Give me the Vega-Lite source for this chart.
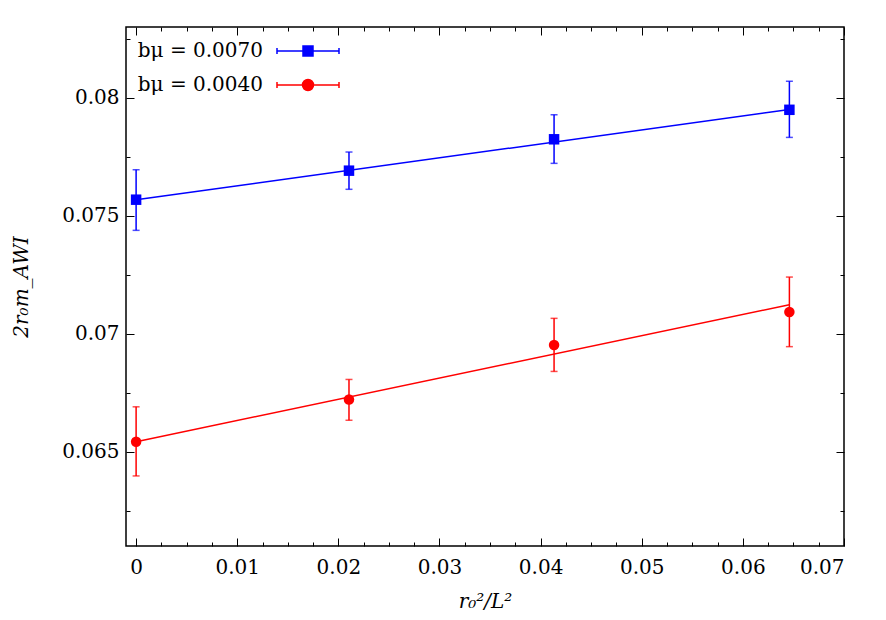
{
  "$schema": "https://vega.github.io/schema/vega-lite/v6.json",
  "width": 718,
  "height": 519,
  "autosize": {"type": "none"},
  "padding": {"left": 126, "top": 27, "right": 42, "bottom": 74},
  "background": "white",
  "config": {
    "view": {"stroke": "#000", "strokeWidth": 1.5},
    "font": "DejaVu Serif",
    "axis": {
      "grid": false,
      "domain": false,
      "tickColor": "#000",
      "tickWidth": 1,
      "labelFont": "DejaVu Serif",
      "labelFontSize": 20,
      "labelColor": "#000",
      "titleFont": "DejaVu Serif",
      "titleFontSize": 20,
      "titleFontWeight": "normal",
      "titleColor": "#000"
    }
  },
  "datasets": {
    "points": [
      {"s": "bμ = 0.0070", "x": 0, "y": 0.07568, "lo": 0.07438, "hi": 0.07695},
      {"s": "bμ = 0.0070", "x": 0.02105, "y": 0.07691, "lo": 0.07612, "hi": 0.0777},
      {"s": "bμ = 0.0070", "x": 0.04133, "y": 0.07824, "lo": 0.07722, "hi": 0.07928},
      {"s": "bμ = 0.0070", "x": 0.0646, "y": 0.07949, "lo": 0.07832, "hi": 0.0807},
      {"s": "bμ = 0.0040", "x": 0, "y": 0.06542, "lo": 0.06397, "hi": 0.0669},
      {"s": "bμ = 0.0040", "x": 0.02105, "y": 0.06721, "lo": 0.06633, "hi": 0.06806},
      {"s": "bμ = 0.0040", "x": 0.04133, "y": 0.06952, "lo": 0.0684, "hi": 0.07065},
      {"s": "bμ = 0.0040", "x": 0.0646, "y": 0.07092, "lo": 0.06945, "hi": 0.0724}
    ],
    "fits": [
      {"s": "bμ = 0.0070", "x": 0, "y": 0.07568},
      {"s": "bμ = 0.0070", "x": 0.0646, "y": 0.0795},
      {"s": "bμ = 0.0040", "x": 0, "y": 0.06542},
      {"s": "bμ = 0.0040", "x": 0.0646, "y": 0.07123}
    ]
  },
  "layer": [
    {
      "data": {"name": "points"},
      "mark": {"type": "rule", "strokeWidth": 1.5},
      "encoding": {
        "x": {"field": "x", "type": "quantitative",
          "scale": {"domain": [-0.001, 0.07], "nice": false, "zero": false},
          "axis": {"orient": "bottom", "values": [0, 0.01, 0.02, 0.03, 0.04, 0.05, 0.06, 0.07], "format": ".2~f",
            "tickSize": -8, "labelPadding": 19, "title": "r₀²/L²", "titleFontStyle": "italic", "titlePadding": 14}},
        "y": {"field": "lo", "type": "quantitative",
          "scale": {"domain": [0.061, 0.083], "nice": false, "zero": false},
          "axis": {"orient": "left", "values": [0.065, 0.07, 0.075, 0.08], "format": ".3~f",
            "tickSize": -8, "labelPadding": 15, "title": "2r₀m_AWI", "titleFontStyle": "italic", "titlePadding": 30}},
        "y2": {"field": "hi"},
        "color": {"field": "s", "type": "nominal",
          "scale": {"domain": ["bμ = 0.0070", "bμ = 0.0040"], "range": ["#0000ff", "#ff0000"]}, "legend": null}
      }
    },
    {
      "data": {"name": "points"},
      "mark": {"type": "tick", "orient": "horizontal", "size": 7, "thickness": 1.5},
      "encoding": {
        "x": {"field": "x", "type": "quantitative",
          "axis": {"orient": "bottom", "values": [0.0025, 0.005, 0.0075, 0.0125, 0.015, 0.0175, 0.0225, 0.025, 0.0275, 0.0325, 0.035, 0.0375, 0.0425, 0.045, 0.0475, 0.0525, 0.055, 0.0575, 0.0625, 0.065, 0.0675],
            "tickSize": -4, "labels": false, "title": null}},
        "y": {"field": "lo", "type": "quantitative",
          "axis": {"orient": "left", "values": [0.0625, 0.0675, 0.0725, 0.0775, 0.0825], "tickSize": -4, "labels": false, "title": null}},
        "color": {"field": "s", "type": "nominal",
          "scale": {"domain": ["bμ = 0.0070", "bμ = 0.0040"], "range": ["#0000ff", "#ff0000"]}, "legend": null}
      }
    },
    {
      "data": {"name": "points"},
      "mark": {"type": "tick", "orient": "horizontal", "size": 7, "thickness": 1.5},
      "encoding": {
        "x": {"field": "x", "type": "quantitative",
          "axis": {"orient": "top", "values": [0, 0.01, 0.02, 0.03, 0.04, 0.05, 0.06, 0.07], "tickSize": -8, "labels": false, "title": null}},
        "y": {"field": "hi", "type": "quantitative",
          "axis": {"orient": "right", "values": [0.065, 0.07, 0.075, 0.08], "tickSize": -8, "labels": false, "title": null}},
        "color": {"field": "s", "type": "nominal",
          "scale": {"domain": ["bμ = 0.0070", "bμ = 0.0040"], "range": ["#0000ff", "#ff0000"]}, "legend": null}
      }
    },
    {
      "data": {"name": "fits"},
      "mark": {"type": "line", "strokeWidth": 1.5},
      "encoding": {
        "x": {"field": "x", "type": "quantitative",
          "axis": {"orient": "top", "values": [0.0025, 0.005, 0.0075, 0.0125, 0.015, 0.0175, 0.0225, 0.025, 0.0275, 0.0325, 0.035, 0.0375, 0.0425, 0.045, 0.0475, 0.0525, 0.055, 0.0575, 0.0625, 0.065, 0.0675],
            "tickSize": -4, "labels": false, "title": null}},
        "y": {"field": "y", "type": "quantitative",
          "axis": {"orient": "right", "values": [0.0625, 0.0675, 0.0725, 0.0775, 0.0825], "tickSize": -4, "labels": false, "title": null}},
        "color": {"field": "s", "type": "nominal",
          "scale": {"domain": ["bμ = 0.0070", "bμ = 0.0040"], "range": ["#0000ff", "#ff0000"]}, "legend": null}
      }
    },
    {
      "data": {"name": "points"},
      "mark": {"type": "point", "filled": true, "opacity": 1, "size": 110},
      "encoding": {
        "x": {"field": "x", "type": "quantitative", "axis": null},
        "y": {"field": "y", "type": "quantitative", "axis": null},
        "color": {"field": "s", "type": "nominal",
          "scale": {"domain": ["bμ = 0.0070", "bμ = 0.0040"], "range": ["#0000ff", "#ff0000"]}, "legend": null},
        "shape": {"field": "s", "type": "nominal",
          "scale": {"domain": ["bμ = 0.0070", "bμ = 0.0040"], "range": ["square", "circle"]}, "legend": null}
      }
    },
    {
      "data": {"name": "points"},
      "mark": {"type": "point", "filled": true, "opacity": 0, "size": 100},
      "encoding": {
        "x": {"field": "x", "type": "quantitative", "axis": null},
        "y": {"field": "y", "type": "quantitative", "axis": null},
        "color": {"field": "s", "type": "nominal",
          "scale": {"domain": ["bμ = 0.0070", "bμ = 0.0040"], "range": ["#0000ff", "#ff0000"]},
          "legend": {
            "orient": "none", "legendX": 172, "legendY": 14, "title": null, "padding": 0,
            "labelAlign": "right", "labelOffset": -55, "labelFont": "DejaVu Serif", "labelFontSize": 20,
            "labelColor": "#000", "labelLimit": 300, "symbolSize": 100, "symbolOpacity": 1,
            "symbolStrokeWidth": 1.5, "rowPadding": 14,
            "encode": {"symbols": {"update": {
              "fill": {"scale": "color", "field": "value"},
              "stroke": {"scale": "color", "field": "value"}}}}
          }},
        "shape": {"field": "s", "type": "nominal",
          "scale": {"domain": ["bμ = 0.0070", "bμ = 0.0040"],
            "range": ["M-6.2,0H6.2M-6.2,-0.6V0.6M6.2,-0.6V0.6M-1,-1H1V1H-1Z",
                      "M-6.2,0H6.2M-6.2,-0.6V0.6M6.2,-0.6V0.6M-1.1,0A1.1 1.1 0 1 0 1.1 0A1.1 1.1 0 1 0 -1.1 0Z"]},
          "legend": {
            "orient": "none", "legendX": 172, "legendY": 14, "title": null, "padding": 0,
            "labelAlign": "right", "labelOffset": -55, "labelFont": "DejaVu Serif", "labelFontSize": 20,
            "labelColor": "#000", "labelLimit": 300, "symbolSize": 100, "symbolOpacity": 1,
            "symbolStrokeWidth": 1.5, "rowPadding": 14}}
      }
    }
  ],
  "resolve": {
    "axis": {"x": "independent", "y": "independent"},
    "scale": {"shape": "independent"},
    "legend": {"color": "independent", "shape": "independent"}
  }
}
